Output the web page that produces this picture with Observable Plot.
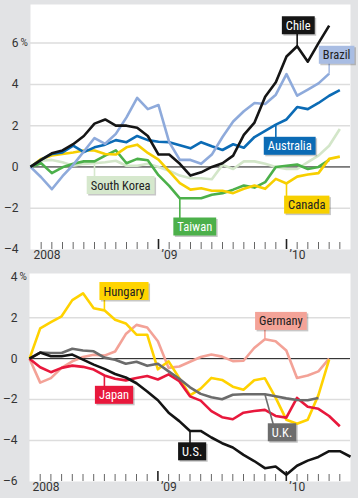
<!DOCTYPE html>
<html>
<head>
<meta charset="utf-8">
<script src="https://cdn.jsdelivr.net/npm/d3@7"></script>
<script src="https://cdn.jsdelivr.net/npm/@observablehq/plot@0.6"></script>
<style>
  html, body { margin: 0; padding: 0; background: #e2e3e5; }
  #chart { width: 358px; height: 498px; overflow: hidden; }
  #chart svg { display: block; }
</style>
</head>
<body>
<div id="chart"></div>
<script>
// ---- Data: monthly % change, index 0 = Jan 2008 ----
const chile      = [0,0.34,0.66,0.8,1.1,1.5,2.1,2.3,2.0,2.0,1.9,1.5,0.6,0.6,0.15,-0.42,-0.26,0,0.18,0.55,1.55,2.15,3.4,4.1,5.35,5.85,5.1,6.0,6.85];
const brazil     = [0,-0.5,-1.08,-0.45,0.1,0.75,1.4,1.12,1.6,2.4,3.35,2.8,3.0,1.2,0.34,0.34,0.15,0.6,1.45,2.2,2.7,3.1,3.05,3.5,4.5,3.45,3.75,4.05,4.52];
const australia  = [0,0.35,0.63,0.7,1.03,0.72,0.95,1.08,1.3,1.2,1.5,1.3,1.22,1.2,1.05,0.9,1.2,1.0,0.82,1.1,0.93,1.45,1.75,2.05,2.3,2.9,2.8,3.1,3.45,3.72];
const southKorea = [0,0.3,0.34,0.23,0.06,0.15,0.18,0.23,0.3,0.06,0.06,0.15,0,-0.18,-0.42,-0.55,-0.55,-0.6,0.1,-0.1,0.27,0.27,0.15,0,-0.1,-0.1,0.23,0.55,1.03,1.84];
const canada     = [0,0.39,0.55,0.63,0.7,0.8,0.8,0.63,0.6,0.95,1.08,0.68,0.35,-0.22,-0.78,-1.1,-1.03,-1.15,-1.15,-1.27,-1.06,-0.9,-1.06,-0.58,-0.8,-0.47,-0.37,-0.3,0.39,0.5];
const taiwan     = [0,0.18,-0.3,-0.02,0.15,0.27,0.27,0.55,0.8,0.18,0.39,0.32,-0.4,-0.92,-1.52,-1.52,-1.52,-1.35,-1.27,-1.1,-0.9,-1.0,-0.74,0,0.06,0.12,-0.1,0,0.34];

const hungary    = [0,1.48,1.78,2.07,2.86,3.19,2.46,2.36,1.9,1.72,1.17,1.17,-0.52,-0.13,-0.95,-1.79,-1.46,-0.94,-1.04,-1.37,-1.52,-1.05,-0.96,-1.9,-2.98,-3.18,-2.98,-1.78,-0.05];
const germany    = [0,-1.17,-0.95,-0.45,-0.13,0.08,0.19,0.15,0.35,1.2,1.65,1.52,0.85,-0.45,-0.38,-0.15,0.08,0.2,0.1,-0.12,-0.1,0.52,0.95,0.85,0.4,-0.94,-0.82,-0.62,0];
const japan      = [0,-0.42,-0.66,-0.45,-0.34,-0.4,-0.53,-0.82,-0.98,-1.06,-0.94,-0.85,-1.02,-0.77,-1.1,-1.84,-2.05,-2.56,-2.86,-2.96,-2.64,-2.56,-2.5,-2.8,-2.88,-1.92,-2.35,-2.45,-2.8,-3.3];
const uk         = [0,0.3,0.28,0.28,0.48,0.4,0.36,0.05,-0.05,-0.25,-0.15,-0.35,-0.25,-0.62,-0.98,-1.4,-1.72,-1.88,-1.98,-1.76,-1.74,-1.74,-1.74,-1.84,-1.94,-2.02,-2.03,-1.92];
const us         = [0,0.3,0.12,0.12,0.2,-0.05,-0.29,-0.5,-0.75,-0.92,-1.2,-1.6,-2.03,-2.64,-3.05,-3.53,-3.53,-3.85,-4.13,-4.34,-4.7,-5.0,-5.35,-5.27,-5.67,-5.23,-4.98,-4.8,-4.52,-4.52,-4.79];

// tick labels
const topTicks = [-4, -2, 0, 2, 4, 6];
const bottomTicks = [-6, -4, -2, 0, 2, 4];
const yearTicks = [0, 12, 24];
const yearLabels = ["2008", "\u201909", "\u201910"];

// series definitions (drawing order)
const topSeries = [
  {name: "South Korea", values: southKorea, color: "#d3e6c9"},
  {name: "Taiwan",      values: taiwan,     color: "#4cb04a"},
  {name: "Canada",      values: canada,     color: "#f7cf00"},
  {name: "Australia",   values: australia,  color: "#0b6bb5"},
  {name: "Brazil",      values: brazil,     color: "#8eaadb"},
  {name: "Chile",       values: chile,      color: "#151515"}
];
const bottomSeries = [
  {name: "Germany", values: germany, color: "#f3a297"},
  {name: "Hungary", values: hungary, color: "#ffd200"},
  {name: "Japan",   values: japan,   color: "#e8183c"},
  {name: "U.K.",    values: uk,      color: "#6b6b6b"},
  {name: "U.S.",    values: us,      color: "#141414"}
];

// callout labels: name, label centre (month, value), pointer month on the series
const topLabelNames  = ["Chile", "Brazil", "Australia", "South Korea", "Taiwan", "Canada"];
const topLabelMonth  = [25.1, 28.7, 24.3, 8.45, 15.4, 25.9];
const topLabelValue  = [6.84, 5.41, 1.0, -0.9, -2.91, -1.85];
const topPointMonth  = [25, 28, 23, 6, 14, 24];
const topPointBase   = [25, 28, 23, 6, 14, 24];
const topBoxColor    = ["#151515", "#a9bde3", "#0b6bb5", "#d6e8cd", "#4cb04a", "#f7d000"];
const topTextColor   = ["#ffffff", "#222222", "#ffffff", "#222222", "#ffffff", "#222222"];

const botLabelNames  = ["Hungary", "Germany", "Japan", "U.K.", "U.S."];
const botLabelMonth  = [8.83, 23.5, 7.9, 23.6, 15.2];
const botLabelValue  = [3.28, 1.82, -1.79, -3.62, -4.55];
const botPointMonth  = [7, 22, 7, 22, 15];
const botPointBase   = [7, 22, 7, 23, 15];
const botBoxColor    = ["#ffd400", "#f4a398", "#e8183c", "#6d6d6d", "#141414"];
const botTextColor   = ["#222222", "#222222", "#ffffff", "#ffffff", "#ffffff"];

const FONT = "Roboto, 'Noto Sans', sans-serif";
const LABEL_FONT = "'Liberation Sans Narrow', 'Roboto Condensed', 'DejaVu Sans Condensed', Roboto, sans-serif";

const fmt = d => (d < 0 ? "\u2013" + Math.abs(d) : String(d));

function buildLabels(names, lm, lv, pm, pb, box, tc, series) {
  return names.map((n, i) => {
    const s = series.find(s => s.name === n);
    return {name: n, lm: lm[i], lv: lv[i], pm: pm[i], pb: pb[i], pv: s.values[pm[i]], box: box[i], tc: tc[i]};
  });
}

function panel({series, labels, ticks, grid, yDomain, height, marginTop, marginBottom, marginLeft}) {
  const plotH = height - marginTop - marginBottom;
  const minor = d3.range(1, 30).filter(m => m % 12 !== 0);
  return Plot.plot({
    width: 358, height,
    marginLeft, marginRight: 8, marginTop, marginBottom,
    x: {domain: [0, 30], axis: null},
    y: {domain: yDomain, axis: null},
    color: {type: "identity"},
    style: {background: "transparent", fontFamily: FONT, fontSize: "12px", color: "#333"},
    marks: [
      Plot.frame({fill: "white", stroke: "none"}),
      Plot.ruleY(grid, {stroke: "#dddddd", strokeWidth: 1.5}),
      Plot.ruleY([0], {stroke: "#111", strokeWidth: 1}),
      Plot.ruleX(minor, {x: d => d, stroke: "#666", strokeWidth: 1, insetTop: plotH - 7}),
      Plot.ruleX([12, 24], {x: d => d, stroke: "#222", strokeWidth: 1.6, insetTop: plotH - 10}),
      Plot.text(ticks, {y: d => d, text: fmt, frameAnchor: "left", textAnchor: "end", dx: -12, fill: "#333", fontSize: 12}),
      Plot.text([ticks[ticks.length - 1]], {y: d => d, text: () => "%", frameAnchor: "left", textAnchor: "start", dx: -10, fill: "#333", fontSize: 10}),
      Plot.text(yearTicks, {x: d => d, text: (d, i) => yearLabels[i], frameAnchor: "bottom", dy: 9, dx: 3, textAnchor: "start", fill: "#333", fontSize: 12}),
      ...series.map(s => Plot.line(s.values, {x: (d, i) => i, y: d => d, stroke: s.color, strokeWidth: 2.6, strokeLinejoin: "round", strokeLinecap: "butt"})),
      Plot.link(labels, {x1: "pb", y1: "lv", x2: "pm", y2: "pv", stroke: "box", strokeWidth: 1.6}),
      Plot.text(labels, {x: "lm", y: "lv", text: "name", fill: "tc", fontSize: 12.5, fontFamily: LABEL_FONT})
    ]
  });
}

const topLabels = buildLabels(topLabelNames, topLabelMonth, topLabelValue, topPointMonth, topPointBase, topBoxColor, topTextColor, topSeries);
const botLabels = buildLabels(botLabelNames, botLabelMonth, botLabelValue, botPointMonth, botPointBase, botBoxColor, botTextColor, bottomSeries);

const topChart = panel({series: topSeries, labels: topLabels, ticks: topTicks, grid: [-2, 2, 4, 6], yDomain: [-4, 7.87], height: 267, marginTop: 4, marginBottom: 18, marginLeft: 30});
const botChart = panel({series: bottomSeries, labels: botLabels, ticks: bottomTicks, grid: [-4, -2, 2], yDomain: [-6, 4.16], height: 231, marginTop: 6, marginBottom: 17, marginLeft: 29});

const host = document.getElementById("chart");
host.appendChild(topChart);
host.appendChild(botChart);

function addBoxes(svg, labels) {
  const NS = "http://www.w3.org/2000/svg";
  const texts = Array.from(svg.querySelectorAll("text"));
  labels.forEach(l => {
    const t = texts.find(t => t.textContent === l.name);
    if (!t) return;
    const bb = t.getBBox();
    const tr = t.getAttribute("transform");
    const padX = 4, padY = 1.5;
    const mk = (off, fill) => {
      const r = document.createElementNS(NS, "rect");
      r.setAttribute("x", bb.x - padX + off);
      r.setAttribute("y", bb.y - padY + off);
      r.setAttribute("width", bb.width + 2 * padX);
      r.setAttribute("height", bb.height + 2 * padY);
      r.setAttribute("fill", fill);
      r.setAttribute("stroke", "none");
      if (tr) r.setAttribute("transform", tr);
      t.parentNode.insertBefore(r, t);
    };
    mk(1.5, "rgba(0,0,0,0.22)");
    mk(0, l.box);
  });
}
addBoxes(topChart, topLabels);
addBoxes(botChart, botLabels);
</script>
</body>
</html>
